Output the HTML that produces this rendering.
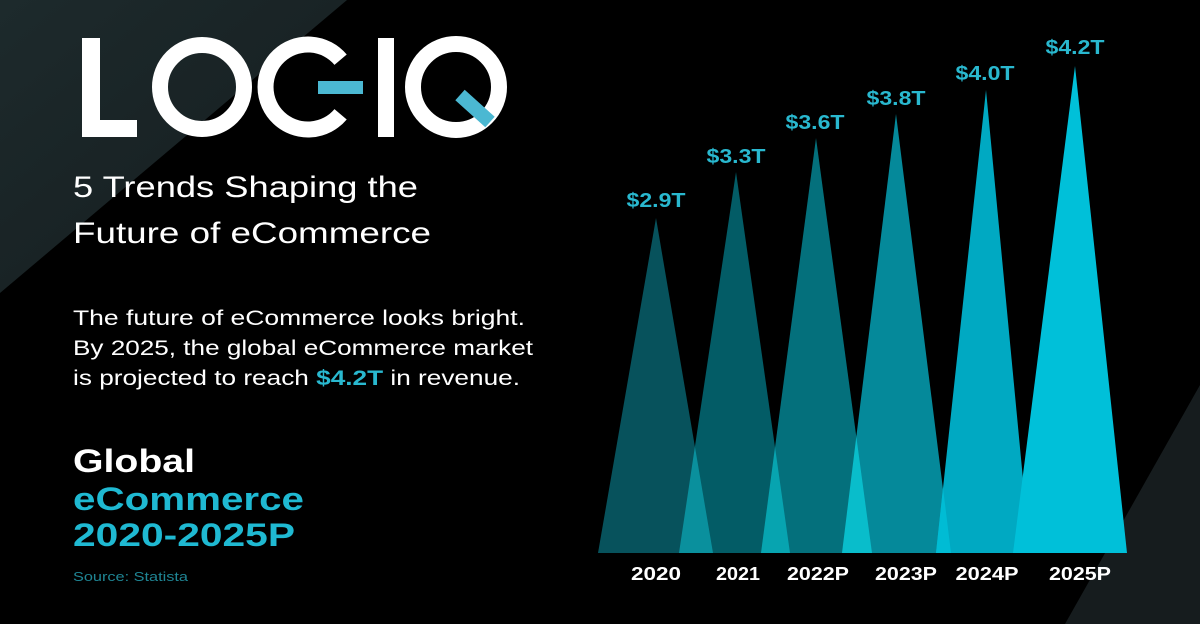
<!DOCTYPE html>
<html><head><meta charset="utf-8"><style>
html,body{margin:0;padding:0;background:#000;}
svg{display:block;}
text{font-family:"Liberation Sans",sans-serif;}
</style></head><body>
<svg width="1200" height="624" viewBox="0 0 1200 624" xmlns="http://www.w3.org/2000/svg">
<defs>
<linearGradient id="bg1" x1="0" y1="0" x2="1" y2="1">
<stop offset="0" stop-color="#1d2a2c"/><stop offset="1" stop-color="#151c1e"/>
</linearGradient>
</defs>
<rect width="1200" height="624" fill="#000"/>
<polygon points="0,0 347,0 0,293" fill="url(#bg1)"/>
<polygon points="1200,385 1200,624 1065,624" fill="#161c1e"/>

<!-- Logo -->
<g fill="#fff">
<rect x="82" y="38" width="18" height="99"/>
<rect x="82" y="120" width="55" height="17"/>
<rect x="378" y="38" width="16" height="99"/>
</g>
<circle cx="202" cy="87" r="42" fill="none" stroke="#fff" stroke-width="16"/>
<path d="M340.6,59.7 A42.5,42.5 0 1 0 340.6,114.3" fill="none" stroke="#fff" stroke-width="16"/>
<rect x="318" y="81" width="45" height="13" fill="#4bb8d2"/>
<circle cx="456" cy="87" r="43" fill="none" stroke="#fff" stroke-width="16"/>
<line x1="460" y1="95" x2="490" y2="122" stroke="#4bb8d2" stroke-width="14"/>

<!-- Left text -->
<text x="73" y="197" font-size="30" fill="#fff" textLength="345" lengthAdjust="spacingAndGlyphs">5 Trends Shaping the</text>
<text x="73" y="243" font-size="30" fill="#fff" textLength="358" lengthAdjust="spacingAndGlyphs">Future of eCommerce</text>
<text x="73" y="325" font-size="21" fill="#fff" textLength="452" lengthAdjust="spacingAndGlyphs">The future of eCommerce looks bright.</text>
<text x="73" y="355" font-size="21" fill="#fff" textLength="460" lengthAdjust="spacingAndGlyphs">By 2025, the global eCommerce market</text>
<text x="73" y="385" font-size="21" fill="#fff" textLength="447" lengthAdjust="spacingAndGlyphs">is projected to reach <tspan fill="#29b8cf" font-weight="bold">$4.2T</tspan> in revenue.</text>
<text x="73" y="472" font-size="32" font-weight="bold" fill="#fff" textLength="122" lengthAdjust="spacingAndGlyphs">Global</text>
<text x="73" y="510" font-size="32" font-weight="bold" fill="#1fb9d2" textLength="231" lengthAdjust="spacingAndGlyphs">eCommerce</text>
<text x="73" y="546" font-size="32" font-weight="bold" fill="#1fb9d2" textLength="222" lengthAdjust="spacingAndGlyphs">2020-2025P</text>
<text x="73" y="581" font-size="13" fill="#1f8594" textLength="115" lengthAdjust="spacingAndGlyphs">Source: Statista</text>

<!-- Chart -->
<polygon points="598,553 656,218 713,553" fill="#07525c"/>
<polygon points="679,553 736,172 790,553" fill="#035c66" style="mix-blend-mode:screen"/>
<polygon points="761,553 816,138 872,553" fill="#04707c" style="mix-blend-mode:screen"/>
<polygon points="842,553 896,114 951,553" fill="#05899a" style="mix-blend-mode:screen"/>
<polygon points="936,553 986,90 1030,553" fill="#00a9c2"/>
<polygon points="936,553 943,488 951,553" fill="#00bcd4"/>
<polygon points="1013,553 1075,66 1127,553" fill="#00c0d9"/>
<g font-size="20" font-weight="bold" fill="#29b8cf" text-anchor="middle">
<text x="656" y="207" textLength="59" lengthAdjust="spacingAndGlyphs">$2.9T</text>
<text x="736" y="163" textLength="59" lengthAdjust="spacingAndGlyphs">$3.3T</text>
<text x="815" y="129" textLength="59" lengthAdjust="spacingAndGlyphs">$3.6T</text>
<text x="896" y="105" textLength="59" lengthAdjust="spacingAndGlyphs">$3.8T</text>
<text x="985" y="80" textLength="59" lengthAdjust="spacingAndGlyphs">$4.0T</text>
<text x="1075" y="54" textLength="59" lengthAdjust="spacingAndGlyphs">$4.2T</text>
</g>
<g font-size="18" font-weight="bold" fill="#fff" text-anchor="middle">
<text x="656" y="580" textLength="50" lengthAdjust="spacingAndGlyphs">2020</text>
<text x="738" y="580" textLength="44" lengthAdjust="spacingAndGlyphs">2021</text>
<text x="818" y="580" textLength="62" lengthAdjust="spacingAndGlyphs">2022P</text>
<text x="906" y="580" textLength="62" lengthAdjust="spacingAndGlyphs">2023P</text>
<text x="987" y="580" textLength="63" lengthAdjust="spacingAndGlyphs">2024P</text>
<text x="1080" y="580" textLength="62" lengthAdjust="spacingAndGlyphs">2025P</text>
</g>
</svg>
</body></html>
